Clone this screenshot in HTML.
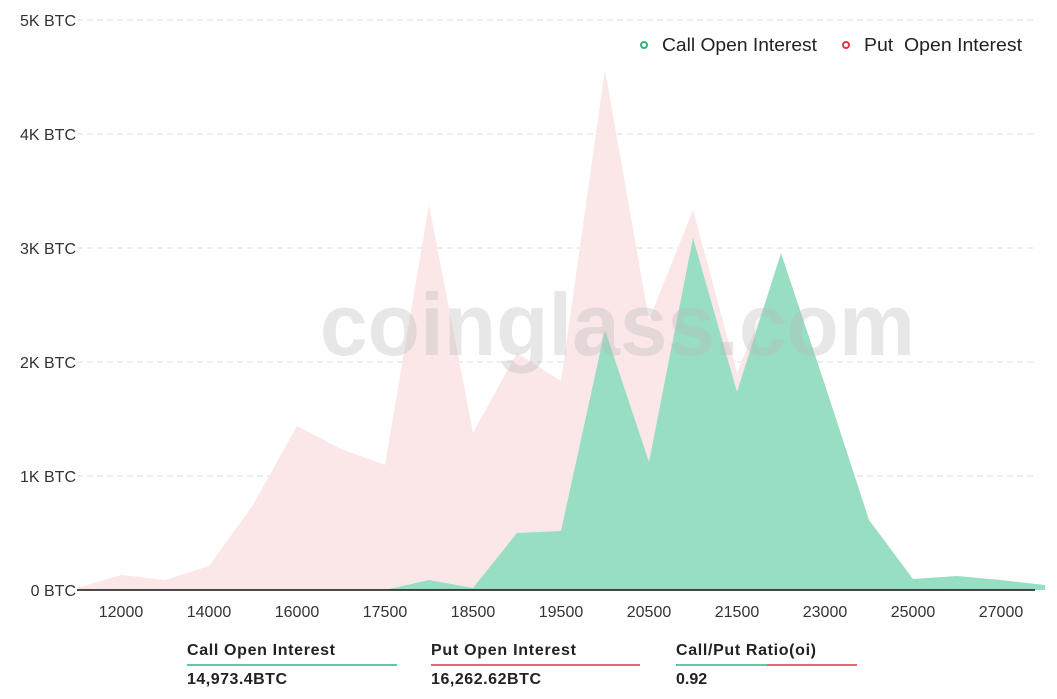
<!DOCTYPE html>
<html><head><meta charset="utf-8"><style>
body{margin:0;background:#fff;font-family:"Liberation Sans",sans-serif;}
</style></head><body>
<div style="position:relative;width:1057px;height:699px;overflow:hidden">
<svg width="1057" height="699" style="position:absolute;left:0;top:0">
<g stroke="#ddd" stroke-dasharray="6,4" stroke-width="1">
<line x1="77" y1="20" x2="1035" y2="20"/><line x1="77" y1="134" x2="1035" y2="134"/>
<line x1="77" y1="248" x2="1035" y2="248"/><line x1="77" y1="362" x2="1035" y2="362"/>
<line x1="77" y1="476" x2="1035" y2="476"/></g>
<g font-size="16" fill="#333" text-anchor="end">
<text x="76" y="26">5K BTC</text><text x="76" y="140">4K BTC</text><text x="76" y="254">3K BTC</text>
<text x="76" y="368">2K BTC</text><text x="76" y="482">1K BTC</text><text x="76" y="596">0 BTC</text></g>
<polygon fill="#fbe6e8" points="77,588 121,575 165,580 209,566 253,505 297,426 341,449 385,465 429,205 473,433 517,353 561,381 605,70 649,320 693,210 737,373 781,265 825,420 869,560 913,588 1035,589 1035,590 77,590"/>
<polygon fill="#97dec3" points="385,590 429,580 473,588 517,533 561,531 605,330 649,462 693,238 737,392 781,253 825,385 869,520 913,579 957,576 1001,580 1045,585 1045,590 385,590"/>
<text x="320" y="355" font-size="88" font-weight="bold" fill="#bbb" fill-opacity="0.35" textLength="595" lengthAdjust="spacingAndGlyphs">coinglass.com</text>
<line x1="77" y1="590" x2="1035" y2="590" stroke="#111" stroke-width="1.5"/>
<g font-size="16" fill="#333" text-anchor="middle">
<text x="121" y="617">12000</text><text x="209" y="617">14000</text><text x="297" y="617">16000</text>
<text x="385" y="617">17500</text><text x="473" y="617">18500</text><text x="561" y="617">19500</text>
<text x="649" y="617">20500</text><text x="737" y="617">21500</text><text x="825" y="617">23000</text>
<text x="913" y="617">25000</text><text x="1001" y="617">27000</text></g>
<circle cx="644" cy="45" r="3" fill="none" stroke="#2db87d" stroke-width="2"/>
<text x="662" y="51" font-size="18" fill="#222" textLength="155" lengthAdjust="spacingAndGlyphs">Call Open Interest</text>
<circle cx="846" cy="45" r="3" fill="none" stroke="#e0344a" stroke-width="2"/>
<text x="864" y="51" font-size="18" fill="#222" xml:space="preserve" textLength="158" lengthAdjust="spacingAndGlyphs">Put  Open Interest</text>
<line x1="187" y1="665" x2="397" y2="665" stroke="#2db87d" stroke-width="1.5"/>
<line x1="431" y1="665" x2="640" y2="665" stroke="#e0344a" stroke-width="1.5"/>
<line x1="676" y1="665" x2="767" y2="665" stroke="#2db87d" stroke-width="1.5"/>
<line x1="767" y1="665" x2="857" y2="665" stroke="#e0344a" stroke-width="1.5"/>
<g font-size="16" font-weight="bold" fill="#222" lengthAdjust="spacingAndGlyphs">
<text x="187" y="655" textLength="148">Call Open Interest</text><text x="431" y="655" textLength="145">Put Open Interest</text><text x="676" y="655" textLength="140">Call/Put Ratio(oi)</text>
<text x="187" y="684" textLength="100">14,973.4BTC</text><text x="431" y="684" textLength="110">16,262.62BTC</text><text x="676" y="684">0.92</text></g>
</svg>
</div></body></html>
